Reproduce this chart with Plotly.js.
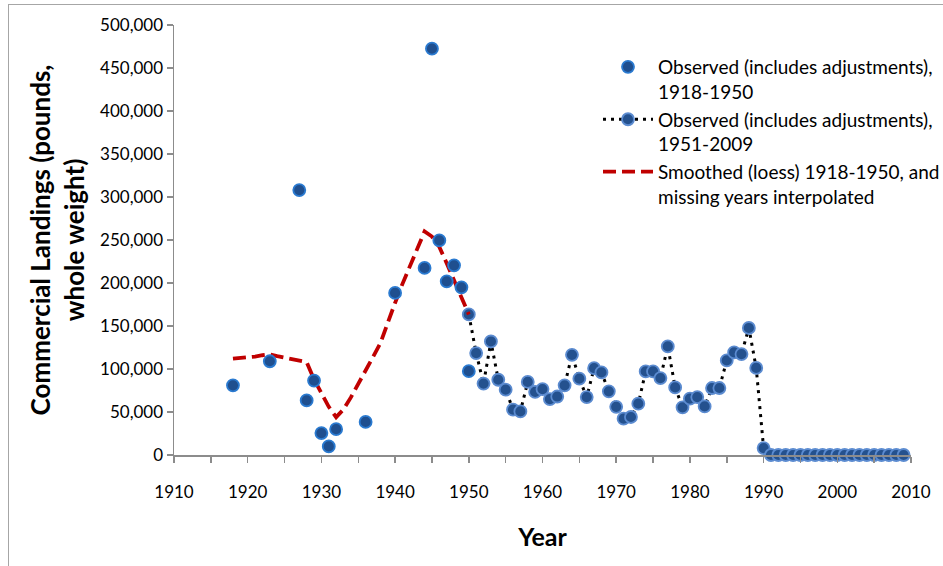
<!DOCTYPE html>
<html>
<head>
<meta charset="utf-8">
<script src="https://cdn.plot.ly/plotly-3.0.1.min.js"></script>
<style>
  html, body { margin: 0; padding: 0; background: #ffffff; }
  #wrap { position: relative; width: 943px; height: 566px; overflow: hidden; }
  #chart { position: absolute; left: 0; top: 0; width: 943px; height: 566px; }
  #frame { position: absolute; left: 8px; top: 4px; width: 1000px; height: 700px;
           border-left: 1.5px solid #a6a6a6; border-top: 1.5px solid #a6a6a6; pointer-events: none; }
</style>
</head>
<body>
<div id="wrap">
  <div id="chart"></div>
  <div id="frame"></div>
</div>
<script>
// Observed landings (includes adjustments), 1918-1950
const obsEarlyYears = [1918, 1923, 1927, 1928, 1929, 1930, 1931, 1932, 1936, 1940, 1944, 1945, 1946, 1947, 1948, 1949, 1950];
const obsEarlyValues = [81000, 109000, 308000, 63500, 86500, 25500, 10000, 30000, 38500, 188500, 217500, 472500, 249500, 202000, 220500, 195000, 97500];

// Observed landings (includes adjustments), 1951-2009, joined to the 1950 smoothed value
const obsLateYears = [1950, 1951, 1952, 1953, 1954, 1955, 1956, 1957, 1958, 1959,
                      1960, 1961, 1962, 1963, 1964, 1965, 1966, 1967, 1968, 1969,
                      1970, 1971, 1972, 1973, 1974, 1975, 1976, 1977, 1978, 1979,
                      1980, 1981, 1982, 1983, 1984, 1985, 1986, 1987, 1988, 1989,
                      1990, 1991, 1992, 1993, 1994, 1995, 1996, 1997, 1998, 1999,
                      2000, 2001, 2002, 2003, 2004, 2005, 2006, 2007, 2008, 2009];
const obsLateValues = [163500, 118500, 83000, 132000, 87500, 76000, 52700, 50700, 85000, 73300,
                       76700, 65000, 68000, 81000, 116500, 88700, 67400, 101000, 96000, 74000,
                       56000, 42200, 44200, 59700, 97200, 97200, 89500, 126300, 78600, 55400,
                       65500, 67400, 56500, 77900, 77900, 110000, 119300, 117400, 147700, 101200,
                       8100, 0, 0, 0, 0, 0, 0, 0, 0, 0,
                       0, 0, 0, 0, 0, 0, 0, 0, 0, 0];

// Loess-smoothed series 1918-1950 with missing years interpolated
const smoothYears = [1918, 1919, 1920, 1921, 1922, 1923, 1924, 1925, 1926, 1927, 1928,
                     1929, 1930, 1931, 1932, 1933, 1934, 1935, 1936, 1937, 1938, 1939,
                     1940, 1941, 1942, 1943, 1944, 1945, 1946, 1947, 1948, 1949, 1950];
const smoothValues = [112000, 112500, 113000, 114500, 116000, 117000, 115000, 113000, 111000, 110000, 108000,
                      88000, 72000, 56000, 44000, 53000, 67000, 82000, 99000, 114000, 130000, 155000,
                      177000, 199000, 219000, 239000, 260000, 254000, 242000, 223000, 204000, 184000, 163500];

// Legend labels
const labelEarly = 'Observed (includes adjustments),<br>1918-1950';
const labelLate = 'Observed (includes adjustments),<br>1951-2009';
const labelSmooth = 'Smoothed (loess) 1918-1950, and<br>missing years interpolated';

const FONT = 'Lato, "Open Sans", "DejaVu Sans", sans-serif';
const AXIS_GREY = '#8c8c8c';

const M = { l: 174, r: 32, t: 25, b: 111 };
const plotW = 943 - M.l - M.r;
const plotH = 566 - M.t - M.b;

const traces = [
  {
    x: obsLateYears, y: obsLateValues,
    type: 'scatter', mode: 'lines+markers',
    name: labelLate, legendrank: 2, legendgroup: 'late',
    line: { color: '#000000', width: 3, dash: '3px,5px' },
    marker: { size: 12, color: '#24518e', line: { color: '#5b8bd0', width: 1.8 } },
    cliponaxis: false
  },
  {
    x: smoothYears, y: smoothValues,
    type: 'scatter', mode: 'lines',
    name: labelSmooth, legendrank: 3, legendgroup: 'smooth',
    line: { color: '#c00000', width: 3.8, dash: '13px,6px' },
    cliponaxis: false
  },
  {
    x: obsEarlyYears, y: obsEarlyValues,
    type: 'scatter', mode: 'markers',
    name: labelEarly, legendrank: 1, legendgroup: 'early',
    marker: { size: 12, color: '#1f4f8f', line: { color: '#2a7ad0', width: 1.8 } },
    cliponaxis: false
  }
];

const layout = {
  width: 943, height: 566,
  paper_bgcolor: '#ffffff', plot_bgcolor: '#ffffff',
  margin: { l: M.l, r: M.r, t: M.t, b: M.b, autoexpand: false },
  font: { family: FONT, size: 16, color: '#000000' },
  showlegend: true,
  legend: {
    x: (598 - M.l) / plotW, y: 1 - (48 - M.t) / plotH,
    xanchor: 'left', yanchor: 'top',
    valign: 'top',
    itemwidth: 50,
    tracegroupgap: 10,
    traceorder: 'normal',
    bgcolor: 'rgba(0,0,0,0)',
    font: { family: FONT, size: 19, color: '#000000' }
  },
  xaxis: {
    range: [1910, 2010],
    dtick: 10, tick0: 1910,
    ticks: 'outside', ticklen: 6, tickwidth: 1.5, tickcolor: AXIS_GREY,
    minor: { dtick: 5, ticks: 'outside', ticklen: 6, tickwidth: 1.5, tickcolor: AXIS_GREY },
    showline: true, linecolor: AXIS_GREY, linewidth: 1.5,
    showgrid: false, zeroline: false,
    ticklabelstandoff: 15,
    tickfont: { family: FONT, size: 17, color: '#000000' },
    title: { text: '<b>Year</b>', font: { family: FONT, size: 25, color: '#000000' }, standoff: 27 }
  },
  yaxis: {
    range: [0, 500000],
    dtick: 50000, tick0: 0,
    tickformat: ',d',
    ticks: 'outside', ticklen: 6, tickwidth: 1.5, tickcolor: AXIS_GREY,
    showline: true, linecolor: AXIS_GREY, linewidth: 1.5,
    showgrid: false, zeroline: false,
    tickfont: { family: FONT, size: 17, color: '#000000' },
    title: { text: '<b>Commercial Landings (pounds,<br>whole weight)</b>',
             font: { family: FONT, size: 26, color: '#000000' }, standoff: 8 }
  }
};

Plotly.newPlot('chart', traces, layout, { displayModeBar: false, staticPlot: true });
</script>
</body>
</html>
